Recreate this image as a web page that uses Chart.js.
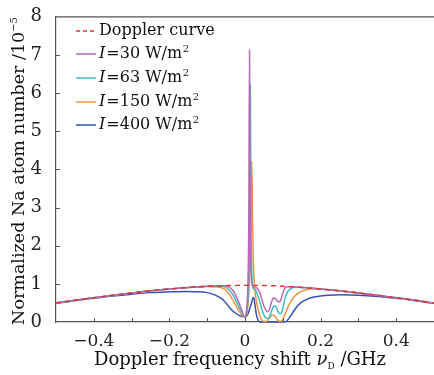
<!DOCTYPE html>
<html>
<head>
<meta charset="utf-8">
<script src="https://cdn.jsdelivr.net/npm/chart.js@4.4.1/dist/chart.umd.min.js"></script>
<style>
html,body{margin:0;padding:0;background:#fff;}
#wrap{width:434px;height:375px;}
</style>
</head>
<body>
<div id="wrap"><canvas id="c" width="434" height="375"></canvas></div>
<script>
// Frequency shift (GHz)
const xs = [-0.5,-0.45,-0.4,-0.35,-0.3,-0.25,-0.2,-0.16,-0.13,-0.1,
  -0.08,-0.06,-0.05,-0.04,-0.03,-0.02,-0.01,0,0.004,0.006,
  0.008,0.010,0.012,0.014,0.016,0.018,0.020,0.022,0.024,0.027,
  0.030,0.035,0.040,0.045,0.050,0.055,0.060,0.065,0.070,0.075,
  0.080,0.085,0.090,0.095,0.100,0.105,0.110,0.120,0.130,0.140,
  0.150,0.165,0.18,0.2,0.22,0.25,0.28,0.3,0.35,0.4,
  0.45,0.5];
const doppler = [0.50,0.57,0.635,0.70,0.76,0.82,0.865,0.897,0.918,0.935,
  0.945,0.951,0.954,0.956,0.958,0.959,0.96,0.96,0.96,0.96,
  0.96,0.96,0.96,0.96,0.96,0.96,0.96,0.96,0.96,0.96,
  0.96,0.958,0.957,0.956,0.955,0.954,0.953,0.952,0.951,0.95,
  0.948,0.946,0.944,0.941,0.938,0.935,0.932,0.925,0.918,0.913,
  0.906,0.895,0.883,0.866,0.847,0.817,0.784,0.761,0.70,0.635,
  0.57,0.49];
const i30 = [0.50,0.57,0.635,0.70,0.76,0.82,0.865,0.897,0.918,0.935,
  0.945,0.951,0.95,0.90,0.80,0.60,0.35,0.13,0.30,0.55,
  1.1,2.6,7.13,2.2,1.3,1.0,0.95,0.93,0.92,0.91,
  0.90,0.85,0.75,0.58,0.42,0.32,0.27,0.34,0.52,0.63,
  0.62,0.56,0.52,0.58,0.76,0.88,0.92,0.925,0.918,0.913,
  0.906,0.895,0.883,0.866,0.847,0.817,0.784,0.761,0.70,0.635,
  0.57,0.49];
const i63 = [0.50,0.57,0.635,0.70,0.76,0.82,0.865,0.897,0.918,0.935,
  0.945,0.94,0.91,0.82,0.68,0.48,0.27,0.13,0.25,0.40,
  0.65,1.1,2.2,6.24,2.4,1.3,0.95,0.88,0.86,0.84,
  0.80,0.66,0.50,0.32,0.18,0.11,0.09,0.14,0.28,0.40,
  0.42,0.33,0.23,0.22,0.36,0.58,0.74,0.87,0.905,0.91,
  0.906,0.895,0.883,0.866,0.847,0.817,0.784,0.761,0.70,0.635,
  0.57,0.49];
const i150 = [0.50,0.57,0.635,0.70,0.76,0.82,0.865,0.897,0.918,0.93,
  0.92,0.89,0.83,0.70,0.54,0.36,0.20,0.12,0.18,0.28,
  0.45,0.75,1.2,2.0,3.0,4.22,2.6,1.6,1.1,0.75,
  0.55,0.32,0.14,0.05,0.01,0.01,0.04,0.11,0.17,0.18,
  0.14,0.07,0.02,0.02,0.07,0.18,0.31,0.52,0.66,0.75,
  0.81,0.85,0.87,0.865,0.847,0.817,0.784,0.761,0.70,0.635,
  0.57,0.49];
const i400 = [0.49,0.56,0.62,0.68,0.73,0.77,0.79,0.80,0.795,0.77,
  0.71,0.60,0.49,0.37,0.27,0.20,0.15,0.13,0.15,0.18,
  0.22,0.27,0.33,0.40,0.46,0.52,0.60,0.64,0.60,0.40,
  0.20,0.04,0,0,0,0,0,0,0,0,
  0,0,0,0,0,0.005,0.02,0.15,0.30,0.43,
  0.52,0.60,0.65,0.68,0.70,0.715,0.71,0.70,0.67,0.62,
  0.56,0.49];

const xTickLabels = [-0.4,-0.2,0,0.2,0.4];
const xMinorTicks = [-0.4,-0.3,-0.2,-0.1,0,0.1,0.2,0.3,0.4];
const yTickLabels = [0,1,2,3,4,5,6,7,8];
const legendNames = ["Doppler curve","=30 W/m","=63 W/m","=150 W/m","=400 W/m"];

const colors = ['#e8302a','#b46cb6','#3fb9c2','#ec9440','#3553b4'];
const series = [doppler,i30,i63,i150,i400];

const SERIF = '"DejaVu Serif", serif';

function pts(arr){ return xs.map((x,i)=>({x:x,y:arr[i]})); }

const datasets = series.map((s,k)=>({
  label: legendNames[k],
  data: pts(s),
  borderColor: colors[k],
  borderWidth: k===0 ? 1.4 : 1.5,
  borderDash: k===0 ? [5,4] : [],
  pointRadius: 0,
  cubicInterpolationMode: 'monotone',
  clip: {left:0,right:0,top:0,bottom:3},
  fill: false
}));

const annot = {
  id:'annot',
  afterDraw(chart){
    const ctx = chart.ctx;
    const {left,right,top,bottom} = chart.chartArea;
    const sx = chart.scales.x, sy = chart.scales.y;
    ctx.save();
    ctx.strokeStyle = '#555';
    ctx.lineWidth = 1.2;
    ctx.beginPath();
    ctx.moveTo(left-0.6, top); ctx.lineTo(right, top);
    ctx.stroke();
    ctx.lineWidth = 1;
    ctx.beginPath();
    xMinorTicks.forEach(v=>{
      const p = Math.round(sx.getPixelForValue(v))+0.5;
      ctx.moveTo(p, bottom); ctx.lineTo(p, bottom-4);
    });
    yTickLabels.forEach(v=>{
      if(v===0||v===8) return;
      const p = Math.round(sy.getPixelForValue(v))+0.5;
      ctx.moveTo(left, p); ctx.lineTo(left+4, p);
    });
    ctx.stroke();

    // legend
    const lx0 = 76, lx1 = 96, tx = 99;
    const ly = [31,54,78,102,125];
    ctx.textBaseline = 'middle';
    ctx.fillStyle = '#111';
    for(let k=0;k<5;k++){
      ctx.strokeStyle = colors[k];
      ctx.lineWidth = 1.5;
      ctx.setLineDash(k===0?[4,3]:[]);
      ctx.beginPath(); ctx.moveTo(lx0, ly[k]); ctx.lineTo(lx1, ly[k]); ctx.stroke();
      ctx.setLineDash([]);
      let x = tx;
      if(k===0){
        ctx.font = '16px ' + SERIF;
        ctx.fillText(legendNames[0], x, ly[k]);
      } else {
        ctx.font = 'italic 16px ' + SERIF;
        ctx.fillText('I', x, ly[k]);
        x += ctx.measureText('I').width + 1;
        ctx.font = '16px ' + SERIF;
        ctx.fillText(legendNames[k], x, ly[k]);
        x += ctx.measureText(legendNames[k]).width + 0.5;
        ctx.font = '10px ' + SERIF;
        ctx.fillText('2', x, ly[k]-5);
      }
    }

    // x title
    ctx.textBaseline = 'alphabetic';
    const fs = 18;
    const parts = [
      {t:'Doppler frequency shift ', f: fs+'px '+SERIF, dy:0},
      {t:'\u03BD', f:'italic '+fs+'px '+SERIF, dy:0},
      {t:'D', f:'9px '+SERIF, dy:4},
      {t:' /GHz', f: fs+'px '+SERIF, dy:0}
    ];
    let w = 0;
    parts.forEach(p=>{ ctx.font=p.f; p.w = ctx.measureText(p.t).width; w+=p.w; });
    let x = 240 - w/2;
    const by = 365;
    parts.forEach(p=>{ ctx.font=p.f; ctx.fillText(p.t, x, by+p.dy); x+=p.w; });

    // y title
    ctx.save();
    ctx.translate(24, 171);
    ctx.rotate(-Math.PI/2);
    const yfs = 17.5;
    const yparts = [
      {t:'Normalized Na atom number /10', f: yfs+'px '+SERIF, dy:0},
      {t:'\u22125', f:'10px '+SERIF, dy:-7}
    ];
    w = 0;
    yparts.forEach(p=>{ ctx.font=p.f; p.w = ctx.measureText(p.t).width; w+=p.w; });
    x = -w/2;
    yparts.forEach(p=>{ ctx.font=p.f; ctx.fillText(p.t, x, p.dy); x+=p.w; });
    ctx.restore();

    ctx.restore();
  }
};

const bg = {
  id:'bg',
  beforeDraw(chart){
    const ctx = chart.ctx;
    ctx.save(); ctx.fillStyle='#fff'; ctx.fillRect(0,0,chart.width,chart.height); ctx.restore();
  }
};

new Chart(document.getElementById('c'), {
  type: 'line',
  data: { datasets: datasets },
  options: {
    responsive: false,
    animation: false,
    layout: { padding: { top: 8, right: 0, left: 0, bottom: 0 } },
    plugins: { legend: { display: false }, tooltip: { enabled: false } },
    scales: {
      x: {
        type: 'linear', min: -0.5, max: 0.5,
        afterBuildTicks: s => { s.ticks = xTickLabels.map(v=>({value:v})); },
        afterFit: s => { s.height = 53; },
        grid: { display: false },
        border: { display: true, color: '#555', width: 1.2 },
        ticks: {
          padding: 1,
          color: '#222',
          font: { family: 'DejaVu Serif', size: 17 },
          maxRotation: 0,
          callback: v => (v===0 ? '0' : (v<0 ? '\u2212' + Math.abs(v).toFixed(1) : v.toFixed(1)))
        }
      },
      y: {
        type: 'linear', min: 0, max: 8,
        afterBuildTicks: s => { s.ticks = yTickLabels.map(v=>({value:v})); },
        afterFit: s => { s.width = 56; },
        grid: { display: false },
        border: { display: true, color: '#555', width: 1.2 },
        ticks: {
          padding: 6,
          color: '#222',
          font: { family: 'DejaVu Serif', size: 18 },
          callback: v => String(v)
        }
      }
    }
  },
  plugins: [bg, annot]
});
</script>
</body>
</html>
